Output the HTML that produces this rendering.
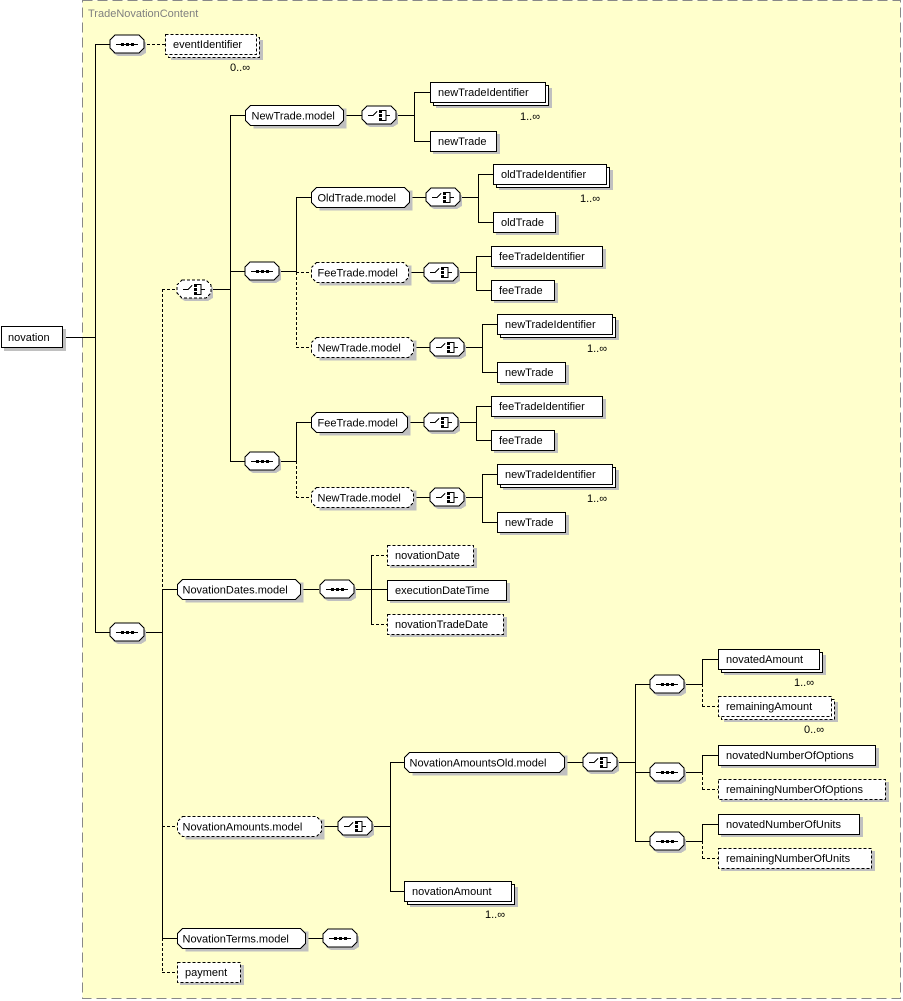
<!DOCTYPE html>
<html><head><meta charset="utf-8"><style>
html,body{margin:0;padding:0;background:#fff;}
svg{display:block;font-family:"Liberation Sans",sans-serif;font-size:11px;}
.b{fill:#fff;stroke:#000;stroke-width:1;}
.d{fill:#fff;stroke:#000;stroke-width:1;stroke-dasharray:3,2;}
.sh{fill:#c0c0c0;stroke:none;}
.l{stroke:#000;stroke-width:1;fill:none;}
.ld{stroke:#000;stroke-width:1;fill:none;stroke-dasharray:3,2;}
text{fill:#000;}
</style></head><body>
<svg width="903" height="1001" viewBox="0 0 903 1001" xmlns="http://www.w3.org/2000/svg" shape-rendering="crispEdges">
<defs>
<g id="seq"><polygon class="sh" points="8,-6 31,-6 36,-1 36,9 31,12 8,12 3,9 3,-1"/><polygon class="b" points="5,-9 29,-9 34,-4 34,4 29,9 5,9 0,4 0,-4"/><line class="l" x1="6" y1="0.5" x2="28" y2="0.5"/><rect x="11" y="-1" width="3" height="3"/><rect x="16" y="-1" width="3" height="3"/><rect x="21" y="-1" width="3" height="3"/></g>
<g id="cho"><polygon class="sh" points="8,-6 31,-6 36,-1 36,9 31,12 8,12 3,9 3,-1"/><polygon class="b" points="5,-9 29,-9 34,-4 34,4 29,9 5,9 0,4 0,-4"/><path class="l" d="M6,0.5H11L15,-3.5M20,-4.5H24V5.5H20M24,0.5H28"/><rect x="17" y="-5" width="3" height="3"/><rect x="17" y="-1" width="3" height="3"/><rect x="17" y="3" width="3" height="3"/></g>
<g id="chod"><polygon class="sh" points="8,-6 31,-6 36,-1 36,9 31,12 8,12 3,9 3,-1"/><polygon class="d" points="5,-9 29,-9 34,-4 34,4 29,9 5,9 0,4 0,-4"/><path class="l" d="M6,0.5H11L15,-3.5M20,-4.5H24V5.5H20M24,0.5H28"/><rect x="17" y="-5" width="3" height="3"/><rect x="17" y="-1" width="3" height="3"/><rect x="17" y="3" width="3" height="3"/></g>
</defs>
<rect x="0" y="0" width="903" height="1001" fill="#fff"/>
<rect x="82.5" y="0.5" width="818" height="998" fill="#ffffcc" stroke="#888" stroke-dasharray="10,5"/>
<text x="88" y="17" fill="#808080" style="fill:#808080">TradeNovationContent</text>

<!-- lines -->
<path class="l" d="M63,337.5H95.5M95.5,44V632M95,44.5H110M95,632.5H110M145,632.5H162.5M162.5,589V938M162,589.5H177M162,938.5H177"/>
<path class="ld" d="M137,44.5H165M162.5,289V589M162,289.5H177M162,826.5H177M162.5,938V972M162,972.5H177"/>
<path class="l" d="M212,289.5H230.5M230.5,115V461M230,115.5H245M230,271.5H245M230,461.5H245"/>
<path class="l" d="M343,115.5H362M397,115.5H414.5M414.5,92V141M414,92.5H430M414,141.5H430"/>
<path class="l" d="M277,271.5H296.5M296.5,197V272M296,197.5H311M409,197.5H426M460,197.5H478.5M478.5,174V222M478,174.5H493M478,222.5H493"/>
<path class="ld" d="M296.5,272V347M296,272.5H311M296,347.5H311"/>
<path class="l" d="M408,272.5H424M458,272.5H476.5M476.5,256V290M476,256.5H491M476,290.5H491"/>
<path class="l" d="M413,347.5H430M464,347.5H482.5M482.5,324V372M482,324.5H497M482,372.5H497"/>
<path class="l" d="M277,461.5H296.5M296.5,422V461M296,422.5H311M407,422.5H424M458,422.5H476.5M476.5,406V440M476,406.5H491M476,440.5H491"/>
<path class="ld" d="M296.5,461V497M296,497.5H311"/>
<path class="l" d="M413,497.5H430M464,497.5H482.5M482.5,474V522M482,474.5H497M482,522.5H497"/>
<path class="l" d="M300,589.5H319M355,589.5H387M371.5,555V624"/>
<path class="ld" d="M371.5,555V589M371,555.5H387M371.5,589V624M371,624.5H387"/>
<path class="l" d="M321,826.5H338M373,826.5H390.5M390.5,762V891M390,762.5H404M390,891.5H404M564,762.5H583M618,762.5H635.5M635.5,684V841M635,684.5H650M635,772.5H650M635,841.5H650"/>
<path class="l" d="M684,684.5H702.5M702.5,659V684M702,659.5H718M684,772.5H702.5M702.5,755V772M702,755.5H718M684,841.5H702.5M702.5,824V841M702,824.5H718"/>
<path class="ld" d="M702.5,684V706M702,706.5H718M702.5,772V789M702,789.5H718M702.5,841V858M702,858.5H718"/>
<path class="l" d="M305,938.5H323"/>

<!-- novation -->
<rect class="sh" x="4" y="329" width="62" height="22"/><rect class="b" x="1.5" y="326.5" width="61" height="21"/><text x="8" y="341">novation</text>

<!-- compositors -->
<use href="#seq" x="110" y="44"/>
<use href="#seq" x="110" y="632"/>
<use href="#chod" x="177" y="289"/>
<use href="#cho" x="362" y="115"/>
<use href="#seq" x="245" y="271"/>
<use href="#cho" x="426" y="197"/>
<use href="#cho" x="424" y="272"/>
<use href="#cho" x="430" y="347"/>
<use href="#seq" x="245" y="461"/>
<use href="#cho" x="424" y="422"/>
<use href="#cho" x="430" y="497"/>
<use href="#seq" x="320" y="589"/>
<use href="#cho" x="338" y="826"/>
<use href="#cho" x="583" y="762"/>
<use href="#seq" x="650" y="684"/>
<use href="#seq" x="650" y="772"/>
<use href="#seq" x="650" y="841"/>
<use href="#seq" x="323" y="938"/>

<!-- model groups -->
<g transform="translate(245.5,115.5)"><polygon class="sh" points="8,-7 101,-7 101,13 8,13"/><polygon class="b" points="5,-10 93,-10 98,-5 98,5 93,10 5,10 0,5 0,-5"/><text x="6" y="4">NewTrade.model</text></g>
<g transform="translate(311.5,197.5)"><polygon class="sh" points="8,-7 101,-7 101,13 8,13"/><polygon class="b" points="5,-10 93,-10 98,-5 98,5 93,10 5,10 0,5 0,-5"/><text x="6" y="4">OldTrade.model</text></g>
<g transform="translate(311.5,272.5)"><polygon class="sh" points="8,-7 100,-7 100,13 8,13"/><polygon class="d" points="5,-10 92,-10 97,-5 97,5 92,10 5,10 0,5 0,-5"/><text x="6" y="4">FeeTrade.model</text></g>
<g transform="translate(311.5,347.5)"><polygon class="sh" points="8,-7 105,-7 105,13 8,13"/><polygon class="d" points="5,-10 97,-10 102,-5 102,5 97,10 5,10 0,5 0,-5"/><text x="6" y="4">NewTrade.model</text></g>
<g transform="translate(311.5,422.5)"><polygon class="sh" points="8,-7 99,-7 99,13 8,13"/><polygon class="b" points="5,-10 91,-10 96,-5 96,5 91,10 5,10 0,5 0,-5"/><text x="6" y="4">FeeTrade.model</text></g>
<g transform="translate(311.5,497.5)"><polygon class="sh" points="8,-7 105,-7 105,13 8,13"/><polygon class="d" points="5,-10 97,-10 102,-5 102,5 97,10 5,10 0,5 0,-5"/><text x="6" y="4">NewTrade.model</text></g>
<g transform="translate(177.5,589.5)"><polygon class="sh" points="8,-7 126,-7 126,13 8,13"/><polygon class="b" points="5,-10 118,-10 123,-5 123,5 118,10 5,10 0,5 0,-5"/><text x="5" y="4">NovationDates.model</text></g>
<g transform="translate(177.5,826.5)"><polygon class="sh" points="8,-7 147,-7 147,13 8,13"/><polygon class="d" points="5,-10 139,-10 144,-5 144,5 139,10 5,10 0,5 0,-5"/><text x="5" y="4">NovationAmounts.model</text></g>
<g transform="translate(404.5,762.5)"><polygon class="sh" points="8,-7 163,-7 163,13 8,13"/><polygon class="b" points="5,-10 155,-10 160,-5 160,5 155,10 5,10 0,5 0,-5"/><text x="5" y="4">NovationAmountsOld.model</text></g>
<g transform="translate(177.5,938.5)"><polygon class="sh" points="8,-7 131,-7 131,13 8,13"/><polygon class="b" points="5,-10 123,-10 128,-5 128,5 123,10 5,10 0,5 0,-5"/><text x="5" y="4">NovationTerms.model</text></g>

<!-- elements -->
<rect class="sh" x="171" y="40" width="92" height="20"/><rect class="d" x="168.5" y="37.5" width="91" height="20"/><rect class="d" x="165.5" y="34.5" width="91" height="20"/><text x="173" y="48">eventIdentifier</text><text x="230" y="71">0..∞</text>

<rect class="sh" x="436" y="88" width="116" height="20"/><rect class="b" x="433.5" y="85.5" width="115" height="20"/><rect class="b" x="430.5" y="82.5" width="115" height="20"/><text x="438" y="96">newTradeIdentifier</text><text x="520" y="120">1..∞</text>
<rect class="sh" x="433" y="134" width="67" height="20"/><rect class="b" x="430.5" y="131.5" width="66" height="20"/><text x="438" y="145">newTrade</text>

<rect class="sh" x="499" y="170" width="114" height="20"/><rect class="b" x="496.5" y="167.5" width="113" height="20"/><rect class="b" x="493.5" y="164.5" width="113" height="20"/><text x="501" y="178">oldTradeIdentifier</text><text x="580" y="202">1..∞</text>
<rect class="sh" x="496" y="215" width="63" height="20"/><rect class="b" x="493.5" y="212.5" width="62" height="20"/><text x="501" y="226">oldTrade</text>

<rect class="sh" x="494" y="249" width="112" height="20"/><rect class="b" x="491.5" y="246.5" width="111" height="20"/><text x="499" y="260">feeTradeIdentifier</text>
<rect class="sh" x="494" y="283" width="64" height="20"/><rect class="b" x="491.5" y="280.5" width="63" height="20"/><text x="499" y="294">feeTrade</text>

<rect class="sh" x="503" y="320" width="116" height="20"/><rect class="b" x="500.5" y="317.5" width="115" height="20"/><rect class="b" x="497.5" y="314.5" width="115" height="20"/><text x="505" y="328">newTradeIdentifier</text><text x="587" y="352">1..∞</text>
<rect class="sh" x="500" y="365" width="69" height="20"/><rect class="b" x="497.5" y="362.5" width="68" height="20"/><text x="505" y="376">newTrade</text>

<rect class="sh" x="494" y="399" width="112" height="20"/><rect class="b" x="491.5" y="396.5" width="111" height="20"/><text x="499" y="410">feeTradeIdentifier</text>
<rect class="sh" x="494" y="433" width="64" height="20"/><rect class="b" x="491.5" y="430.5" width="63" height="20"/><text x="499" y="444">feeTrade</text>

<rect class="sh" x="503" y="470" width="116" height="20"/><rect class="b" x="500.5" y="467.5" width="115" height="20"/><rect class="b" x="497.5" y="464.5" width="115" height="20"/><text x="505" y="478">newTradeIdentifier</text><text x="587" y="502">1..∞</text>
<rect class="sh" x="500" y="515" width="69" height="20"/><rect class="b" x="497.5" y="512.5" width="68" height="20"/><text x="505" y="526">newTrade</text>

<rect class="sh" x="390" y="548" width="87" height="20"/><rect class="d" x="387.5" y="545.5" width="86" height="20"/><text x="395" y="559">novationDate</text>
<rect class="sh" x="390" y="583" width="120" height="20"/><rect class="b" x="387.5" y="580.5" width="119" height="20"/><text x="395" y="594">executionDateTime</text>
<rect class="sh" x="390" y="617" width="117" height="20"/><rect class="d" x="387.5" y="614.5" width="116" height="20"/><text x="395" y="628">novationTradeDate</text>

<rect class="sh" x="724" y="655" width="102" height="20"/><rect class="b" x="721.5" y="652.5" width="101" height="20"/><rect class="b" x="718.5" y="649.5" width="101" height="20"/><text x="726" y="663">novatedAmount</text><text x="794" y="686">1..∞</text>
<rect class="sh" x="724" y="702" width="114" height="20"/><rect class="d" x="721.5" y="699.5" width="113" height="20"/><rect class="d" x="718.5" y="696.5" width="113" height="20"/><text x="726" y="710">remainingAmount</text><text x="804" y="733">0..∞</text>
<rect class="sh" x="721" y="748" width="158" height="20"/><rect class="b" x="718.5" y="745.5" width="157" height="20"/><text x="726" y="759">novatedNumberOfOptions</text>
<rect class="sh" x="721" y="782" width="168" height="20"/><rect class="d" x="718.5" y="779.5" width="167" height="20"/><text x="726" y="793">remainingNumberOfOptions</text>
<rect class="sh" x="721" y="817" width="142" height="20"/><rect class="b" x="718.5" y="814.5" width="141" height="20"/><text x="726" y="828">novatedNumberOfUnits</text>
<rect class="sh" x="721" y="851" width="154" height="20"/><rect class="d" x="718.5" y="848.5" width="153" height="20"/><text x="726" y="862">remainingNumberOfUnits</text>

<rect class="sh" x="410" y="887" width="108" height="20"/><rect class="b" x="407.5" y="884.5" width="107" height="20"/><rect class="b" x="404.5" y="881.5" width="107" height="20"/><text x="412" y="895">novationAmount</text><text x="485" y="918">1..∞</text>

<rect class="sh" x="180" y="965" width="64" height="20"/><rect class="d" x="177.5" y="962.5" width="63" height="20"/><text x="185" y="976">payment</text>
</svg>
</body></html>
